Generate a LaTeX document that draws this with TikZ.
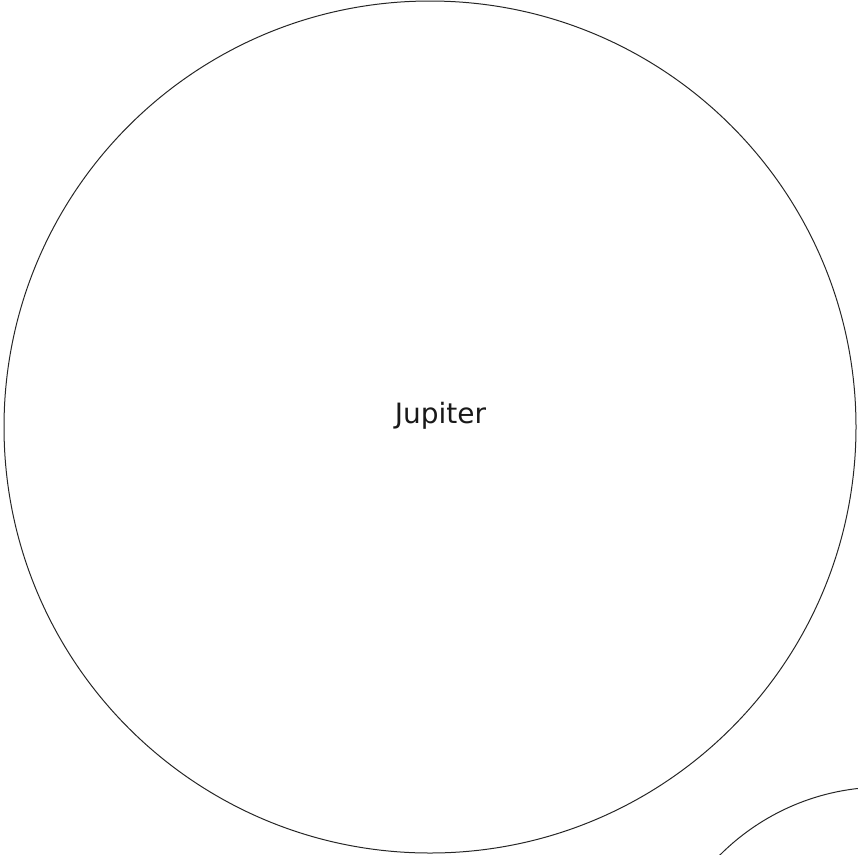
\documentclass[tikz,border=0pt]{standalone}
\usepackage{fontspec}
\setmainfont{DejaVu Sans}
\begin{document}
\begin{tikzpicture}[x=1pt,y=-1pt,
  planet/.style={circle, draw=black!85, line width=1pt, inner sep=0pt},
  lbl/.style={font=\fontsize{28}{30}\selectfont, text=black!90, inner sep=0pt}]
\useasboundingbox (0,0) rectangle (858,854);
\clip (0,0) rectangle (858,854);
\node[planet, minimum size=852pt] (jupiter) at (430,427) {};
\node[lbl] (jlabel) at (440.5,416) {Jupiter};
\node[planet, minimum size=464pt] (other) at (884,1019) {};
\end{tikzpicture}
\end{document}
